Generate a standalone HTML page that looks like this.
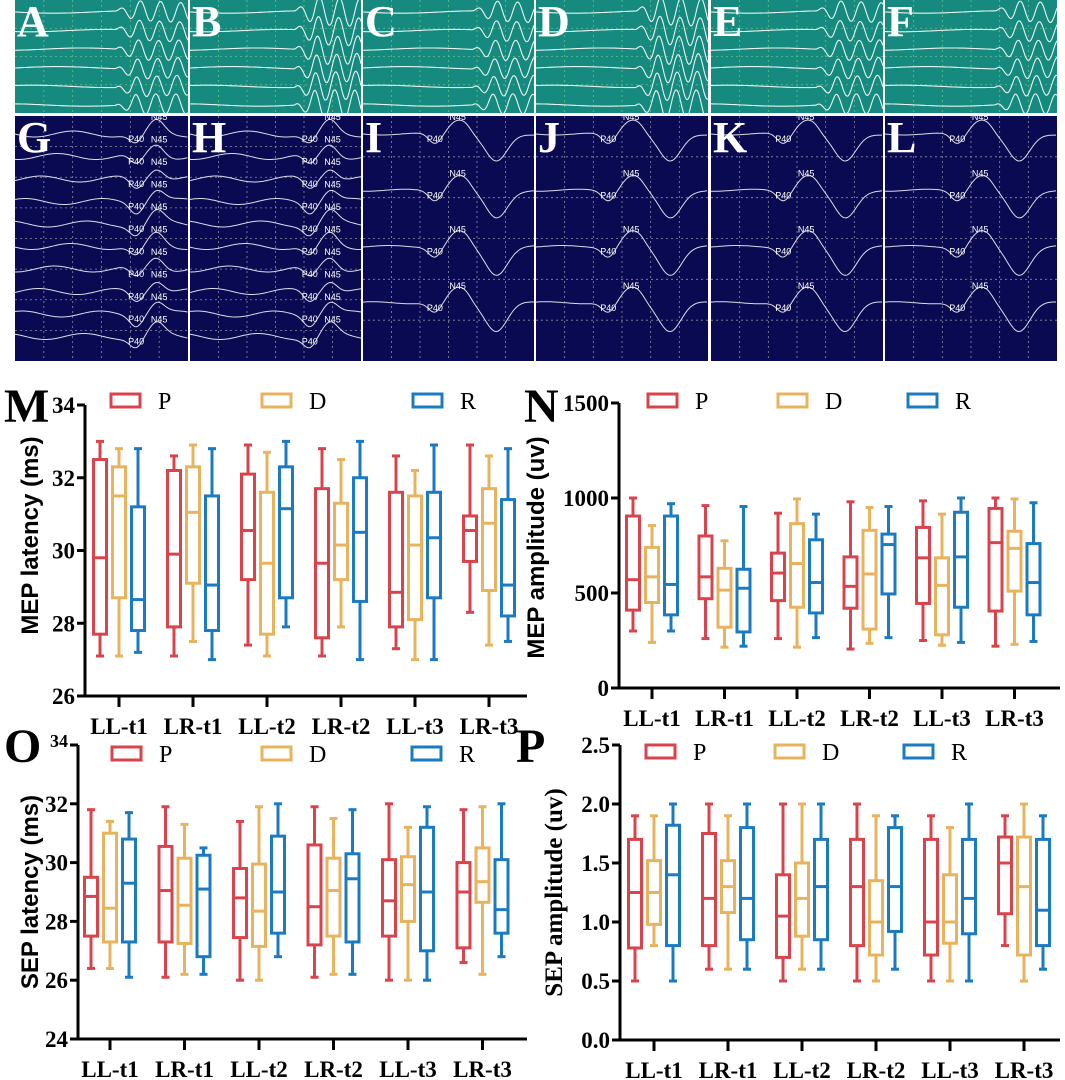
<!DOCTYPE html>
<html><head><meta charset="utf-8">
<style>
html,body{margin:0;padding:0;background:#fff;}
body{width:1065px;height:1080px;position:relative;overflow:hidden;font-family:"Liberation Sans",sans-serif;}
svg{position:absolute;left:0;top:0;}
</style></head>
<body>
<svg id="top" width="1065" height="365" viewBox="0 0 1065 365"></svg>
<svg id="charts" width="1065" height="1080" viewBox="0 0 1065 1080" style="top:0"></svg>
<script>
// ---------- chart data ----------
const categories = ["LL-t1","LR-t1","LL-t2","LR-t2","LL-t3","LR-t3"];
const seriesNames = ["P","D","R"];
// each entry: [min, q1, median, q3, max]
const mepLatP = [[27.1,27.7,29.8,32.5,33.0],[27.1,27.9,29.9,32.2,32.6],[27.4,29.2,30.55,32.1,32.9],[27.1,27.6,29.65,31.7,32.8],[27.3,27.9,28.85,31.6,32.6],[28.3,29.7,30.55,30.95,32.9]];
const mepLatD = [[27.1,28.7,31.5,32.3,32.8],[27.5,29.1,31.05,32.3,32.9],[27.1,27.7,29.65,31.6,32.7],[27.9,29.2,30.15,31.3,32.5],[27.0,28.1,30.15,31.5,32.2],[27.4,28.9,30.75,31.7,32.6]];
const mepLatR = [[27.2,27.8,28.65,31.2,32.8],[27.0,27.8,29.05,31.5,32.8],[27.9,28.7,31.15,32.3,33.0],[27.0,28.6,30.5,32.0,33.0],[27.0,28.7,30.35,31.6,32.9],[27.5,28.2,29.05,31.4,32.8]];
const mepAmpP = [[300,410,570,905,1000],[260,470,585,800,960],[260,460,605,710,920],[205,420,535,690,980],[250,445,685,845,985],[220,405,765,945,1000]];
const mepAmpD = [[240,450,585,740,855],[215,320,515,630,775],[215,425,655,865,995],[235,310,600,830,950],[225,280,540,685,915],[230,510,735,825,995]];
const mepAmpR = [[300,385,545,905,970],[220,295,525,625,955],[265,395,555,780,915],[265,495,755,810,955],[240,425,690,925,1000],[245,385,555,760,975]];
const sepLatP = [[26.4,27.5,28.85,29.5,31.8],[26.1,27.3,29.05,30.55,31.9],[26.0,27.45,28.8,29.8,31.4],[26.1,27.2,28.5,30.6,31.9],[26.0,27.5,28.7,30.1,32.0],[26.6,27.1,29.0,30.0,31.8]];
const sepLatD = [[26.4,27.3,28.45,31.0,31.4],[26.2,27.25,28.55,30.15,31.3],[26.0,27.15,28.35,29.95,31.9],[26.2,27.5,29.05,30.15,31.5],[26.0,28.0,29.25,30.2,31.2],[26.2,28.65,29.35,30.5,31.9]];
const sepLatR = [[26.1,27.3,29.3,30.8,31.7],[26.2,26.8,29.1,30.25,30.5],[26.8,27.6,29.0,30.9,32.0],[26.2,27.3,29.45,30.3,31.8],[26.0,27.0,29.0,31.2,31.9],[26.8,27.6,28.4,30.1,32.0]];
const sepAmpP = [[0.5,0.78,1.25,1.7,1.9],[0.6,0.8,1.2,1.75,2.0],[0.5,0.7,1.05,1.4,2.0],[0.5,0.8,1.3,1.7,2.0],[0.5,0.72,1.0,1.7,1.9],[0.8,1.07,1.5,1.72,1.9]];
const sepAmpD = [[0.8,0.98,1.25,1.52,1.9],[0.6,1.08,1.3,1.52,1.9],[0.6,0.88,1.2,1.5,2.0],[0.5,0.72,1.0,1.35,1.9],[0.5,0.82,1.0,1.4,1.8],[0.5,0.72,1.3,1.72,2.0]];
const sepAmpR = [[0.5,0.8,1.4,1.82,2.0],[0.6,0.85,1.2,1.8,2.0],[0.6,0.85,1.3,1.7,2.0],[0.6,0.92,1.3,1.8,1.9],[0.5,0.9,1.2,1.7,2.0],[0.6,0.8,1.1,1.7,1.9]];
const mepLatTicks = ["26","28","30","32","34"];
const mepAmpTicks = ["0","500","1000","1500"];
const sepLatTicks = ["24","26","28","30","32","34"];
const sepAmpTicks = ["0.0","0.5","1.0","1.5","2.0","2.5"];

const colors = ["#d9434b","#e9b25c","#1a7ac2"];
const NS = "http://www.w3.org/2000/svg";
function mk(parent, tag, attrs){const e=document.createElementNS(NS,tag);for(const k in attrs)e.setAttribute(k,attrs[k]);parent.appendChild(e);return e;}

const cs = document.getElementById('charts');

function drawChart(cfg){
  const g = mk(cs,'g',{});
  
  
  const y = v => cfg.y0 - (v - cfg.vmin) / (cfg.vmax - cfg.vmin) * (cfg.y0 - cfg.y1);
  const x = i => cfg.xt0 + i * cfg.xstep;
  const L = mk(g,'text',{x:cfg.lx,y:cfg.ly,'font-family':'Liberation Serif, serif','font-weight':'bold','font-size':48});
  L.textContent = cfg.letter;
  
  
  const ya = mk(g,'line',{x1:cfg.ax,y1:cfg.y1,x2:cfg.ax,y2:cfg.y0+1.5,stroke:'#000','stroke-width':3});
  
  
  const xa = mk(g,'line',{x1:cfg.ax-8,y1:cfg.y0,x2:cfg.xend,y2:cfg.y0,stroke:'#000','stroke-width':3});
  
  
  cfg.ticks.forEach((t,j)=>{
    const v = parseFloat(t), yy=y(v);
    mk(g,'line',{x1:cfg.ax-8,y1:yy,x2:cfg.ax,y2:yy,stroke:'#000','stroke-width':3});
    const small = cfg.smallTop && j===cfg.ticks.length-1;
    const tx = mk(g,'text',{x:cfg.ax-10,y:yy+(small?2:8),'text-anchor':'end','font-family':'Liberation Serif, serif','font-weight':'bold','font-size':small?18:23});
    tx.textContent = t;
    
    
  });
  categories.forEach((c,i)=>{
    mk(g,'line',{x1:x(i),y1:cfg.y0,x2:x(i),y2:cfg.y0+11,stroke:'#000','stroke-width':3});
    const tx = mk(g,'text',{x:x(i),y:cfg.y0+38,'text-anchor':'middle','font-family':'Liberation Serif, serif','font-weight':'bold','font-size':23});
    tx.textContent = c;
    
    
  });
  const cy=(cfg.y0+cfg.y1)/2+cfg.tdy;
  const tt = mk(g,'text',{x:0,y:0,transform:`translate(${cfg.tx},${cy}) rotate(-90)`,'text-anchor':'middle','font-family':cfg.titleSerif?'Liberation Serif, serif':'Liberation Sans, sans-serif','font-weight':'bold','font-size':cfg.titleSerif?25:24});
  tt.textContent = cfg.title;
  
  
  seriesNames.forEach((s,k)=>{
    const lx = cfg.legX + k*cfg.legStep;
    const r = mk(g,'rect',{x:lx,y:cfg.legY,width:29,height:13,fill:'none',stroke:colors[k],'stroke-width':3});
    
    
    const t = mk(g,'text',{x:lx+47,y:cfg.legY+15,'font-family':'Liberation Serif, serif','font-size':24});
    t.textContent = s;
    
    
  });
  cfg.series.forEach((ser,k)=>{
    ser.forEach((d,i)=>{
      const cx = x(i) + (k-1)*19, w=13;
      const bg = mk(g,'g',{stroke:colors[k],'stroke-width':3,fill:'none'});
      
      
      mk(bg,'line',{x1:cx,y1:y(d[0]),x2:cx,y2:y(d[1])});
      mk(bg,'line',{x1:cx,y1:y(d[3]),x2:cx,y2:y(d[4])});
      mk(bg,'line',{x1:cx-4,y1:y(d[0]),x2:cx+4,y2:y(d[0])});
      mk(bg,'line',{x1:cx-4,y1:y(d[4]),x2:cx+4,y2:y(d[4])});
      mk(bg,'rect',{x:cx-w/2,y:y(d[3]),width:w,height:y(d[1])-y(d[3])});
      mk(bg,'line',{x1:cx-w/2,y1:y(d[2]),x2:cx+w/2,y2:y(d[2])});
    });
  });
}

drawChart({name:'chart-mep-latency',letter:'M',lx:4,ly:422,ax:85,y0:696,y1:405,vmin:26,vmax:34,xt0:119,xstep:74,xend:527,ticks:mepLatTicks,title:'MEP latency (ms)',tx:38,tdy:-15,legX:111,legStep:151,legY:394,series:[mepLatP,mepLatD,mepLatR]});
drawChart({name:'chart-mep-amplitude',letter:'N',lx:524,ly:422,ax:619,y0:688,y1:403,vmin:0,vmax:1500,xt0:652,xstep:72.5,xend:1060,ticks:mepAmpTicks,title:'MEP amplitude (uv)',tx:544,tdy:2,legX:648,legStep:130,legY:394,series:[mepAmpP,mepAmpD,mepAmpR]});
drawChart({name:'chart-sep-latency',letter:'O',lx:4,ly:762,ax:78,y0:1039,y1:745,vmin:24,vmax:34,xt0:110,xstep:74.5,xend:527,ticks:sepLatTicks,smallTop:true,title:'SEP latency (ms)',tx:38,tdy:0,legX:112,legStep:150,legY:747,series:[sepLatP,sepLatD,sepLatR]});
drawChart({name:'chart-sep-amplitude',letter:'P',lx:516,ly:762,ax:620,y0:1040,y1:745,vmin:0,vmax:2.5,xt0:654,xstep:74,xend:1060,ticks:sepAmpTicks,title:'SEP amplitude (uv)',tx:562,titleSerif:true,tdy:0,legX:646,legStep:129,legY:745,series:[sepAmpP,sepAmpD,sepAmpR]});

// ---------- waveform panels (images) ----------
const ts = document.getElementById('top');
const cols = [[15,188],[190,361],[363,534],[536,708],[711,883],[885,1057]];
const letters1 = ["A","B","C","D","E","F"], letters2=["G","H","I","J","K","L"];
function panel(x0,x1,y0,y1,bg,letter,kind,idx){
  const g = mk(ts,'g',{});
  
  
  mk(g,'rect',{x:x0,y:y0,width:x1-x0,height:y1-y0,fill:bg});
  const w=x1-x0,h=y1-y0;
  const gridC = kind==='mep' ? '#5fc08a' : '#8a8aa0';
  for(let i=1;i<6;i++) mk(g,'line',{x1:x0+w*i/6,y1:y0,x2:x0+w*i/6,y2:y1,stroke:gridC,'stroke-width':0.8,'stroke-dasharray':'2,3'});
  const nr = kind==='mep'?4:(idx<2?8:6);
  for(let i=1;i<nr;i++) mk(g,'line',{x1:x0,y1:y0+h*i/nr,x2:x1,y2:y0+h*i/nr,stroke:gridC,'stroke-width':0.8,'stroke-dasharray':'2,3'});
  if(kind==='mep'){
    const n=6;
    for(let t=0;t<n;t++){
      const base=y0+12+t*(h-20)/(n-1);
      let d='';
      const start = 0.58 + (idx%3)*0.03;
      for(let px=0;px<=w;px+=1){
        const f=px/w; let v=Math.sin(f*7+t)*1.2;
        if(f>start){const a=(f-start)*w; v+= -Math.sin(a/3.2+t*0.3)*Math.min(10,a*0.5)*(idx===1||idx===3?1.4:1);}
        d+=(px===0?'M':'L')+(x0+px).toFixed(1)+','+(base+v).toFixed(1);
      }
      mk(g,'path',{d,fill:'none',stroke:'#e8f4ef','stroke-width':1.1});
    }
  } else {
    const n = idx<2?10:4;
    const sp=(h-20)/n;
    for(let t=0;t<n;t++){
      const base=y0+18+t*sp;
      let d='';
      const p = idx<2?0.7:0.42;
      for(let px=0;px<=w;px+=1.5){
        const f=px/w;
        let v = Math.sin(f*14+t*1.3)*(idx<2?3:1);
        v += 10*Math.exp(-Math.pow((f-p)/0.05,2));
        v -= 12*Math.exp(-Math.pow((f-p-0.12)/0.06,2));
        if(idx>=2) v += 28*Math.exp(-Math.pow((f-0.78)/0.09,2)) - 8*Math.exp(-Math.pow((f-0.6)/0.05,2));
        d+=(px===0?'M':'L')+(x0+px).toFixed(1)+','+(base+v).toFixed(1);
      }
      mk(g,'path',{d,fill:'none',stroke:'#dcdce6','stroke-width':1});
      const t1=mk(g,'text',{x:x0+w*p-8,y:base+8,fill:'#fff','font-size':9,'font-family':'Liberation Sans, sans-serif'});t1.textContent='P40';
      const t2=mk(g,'text',{x:x0+w*(p+0.12)-6,y:base-14,fill:'#fff','font-size':9,'font-family':'Liberation Sans, sans-serif'});t2.textContent='N45';
    }
  }
  const L = mk(g,'text',{x:x0+2,y:y0+36,fill:'#fff','font-family':'Liberation Serif, serif','font-weight':'bold','font-size':44});
  L.textContent=letter;
}
cols.forEach((c,i)=>{
  panel(c[0],c[1],0,113,'#178a80',letters1[i],'mep',i);
  panel(c[0],c[1],116,361,'#0a0a52',letters2[i],'sep',i);
});
</script>
</body></html>
